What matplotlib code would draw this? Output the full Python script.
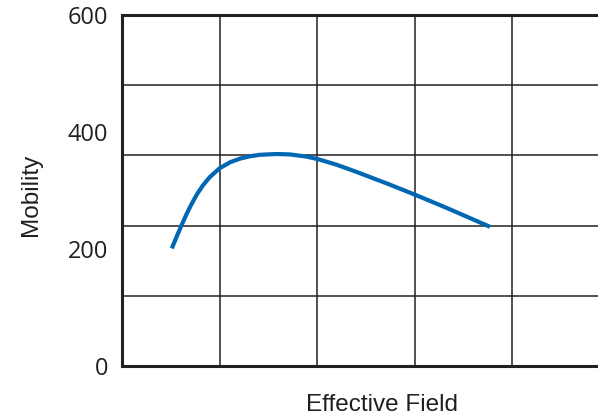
import matplotlib.pyplot as plt

# values (arbitrary field units, mobility)
field = [0.51, 0.56, 0.61, 0.66, 0.71, 0.77, 0.83, 0.90, 1.00, 1.11, 1.21, 1.31,
         1.41, 1.58, 1.72, 1.89, 2.01, 2.20, 2.40, 2.73, 3.00, 3.33, 3.77]
mobility = [201, 221, 240.5, 259, 276, 294, 309, 323, 338, 348.5, 354.5, 358.5,
            361, 362.4, 361.7, 358, 353.5, 344, 332, 311, 293, 270, 238]

y_ticks = [0, 200, 400, 600]
y_grid = [0, 120, 240, 360, 480, 600]
x_grid = [0, 1, 2, 3, 4, 5]

plt.rcParams['font.family'] = ['Open Sans', 'DejaVu Sans']

fig = plt.figure(figsize=(5.98, 4.17), dpi=100)
ax = fig.add_axes([0.204, 0.1223, 0.816, 0.8417])
ax.set_xlim(0, 5)
ax.set_ylim(0, 600)

for g in y_grid[1:-1]:
    ax.axhline(g, color='#231f20', lw=1.1, zorder=1)
for g in x_grid[1:-1]:
    ax.axvline(g, color='#231f20', lw=1.1, zorder=1)

ax.plot(field, mobility, color='#0068b3', lw=3.0, solid_capstyle='butt',
        solid_joinstyle='round', zorder=3)

ax.set_yticks(y_ticks)
ax.set_yticklabels([str(v) for v in y_ticks], fontsize=17, color='#231f20')
ax.set_xticks([])
ax.tick_params(axis='y', length=0, pad=10)

for side in ['left', 'bottom', 'top']:
    ax.spines[side].set_linewidth(2.2)
    ax.spines[side].set_color('#231f20')
ax.spines['right'].set_visible(False)

ax.set_ylabel('Mobility', fontsize=17.5, color='#231f20', family='Liberation Sans', va='center')
ax.yaxis.set_label_coords(-0.187, 0.487)
ax.set_xlabel('Effective Field', fontsize=17.5, color='#231f20', family='Liberation Sans', va='center')
ax.xaxis.set_label_coords(0.533, -0.11)

fig.savefig('out.png', dpi=100)
